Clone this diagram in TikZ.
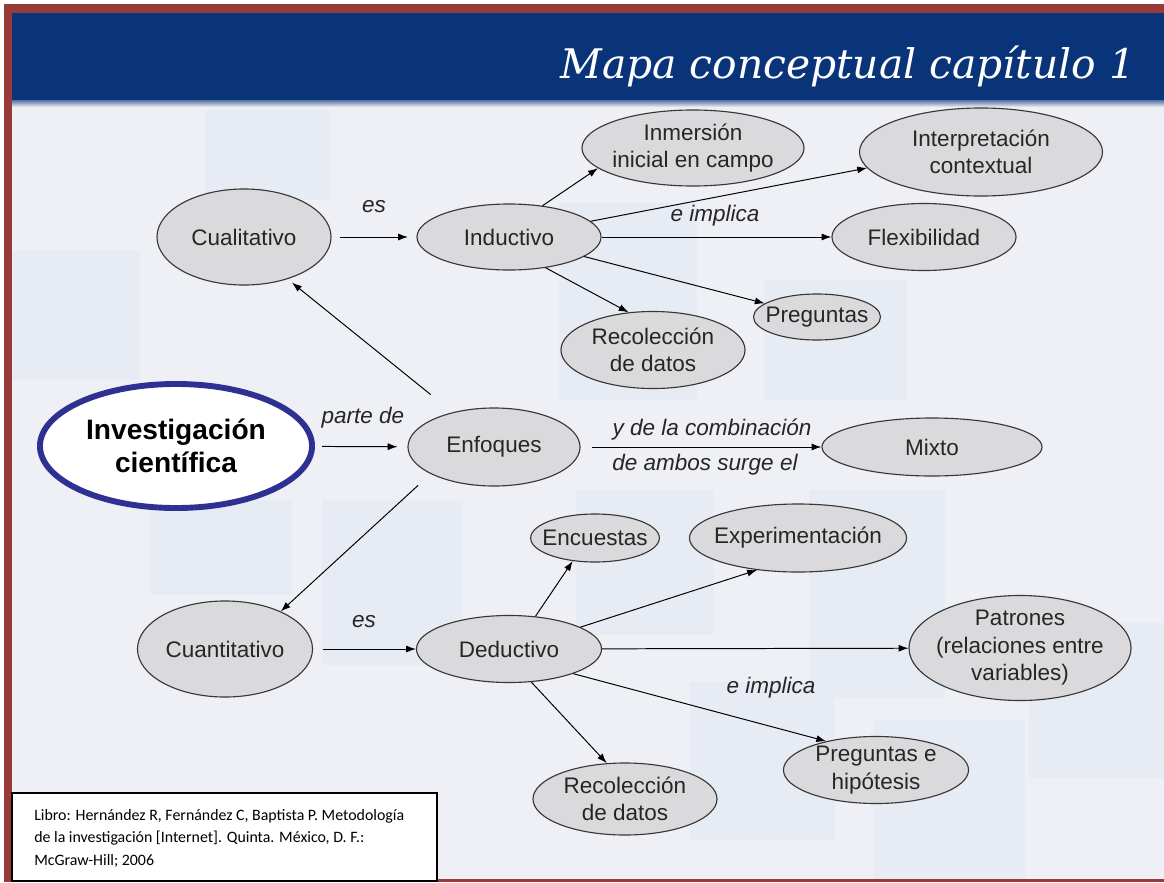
\documentclass[tikz,border=0pt]{standalone}
\usepackage{fontspec}
\setmainfont{Liberation Sans}
\newfontfamily\titlefont{DejaVu Serif}
\newfontfamily\citefont{Carlito}
\usetikzlibrary{shapes.geometric,arrows.meta}

\definecolor{marco}{RGB}{152,58,56}
\definecolor{banda}{RGB}{10,52,122}
\definecolor{fondo}{RGB}{238,240,245}
\definecolor{fondoB}{RGB}{231,235,243}
\definecolor{relleno}{RGB}{218,218,220}
\definecolor{borde}{RGB}{55,55,55}
\definecolor{azulinv}{RGB}{46,49,146}

\tikzset{
  concepto/.style={ellipse, draw=borde, line width=0.8pt, fill=relleno, inner sep=-5pt,
    align=center, text=black!85, font=\fontsize{16}{19.5}\selectfont},
  enlace/.style={font=\fontsize{16}{19}\selectfont\itshape, text=black!85},
  flecha/.style={line width=0.7pt, -{Latex[length=7pt,width=5pt]}},
}

\begin{document}
\begin{tikzpicture}[x=0.025cm, y=-0.025cm]
    % Background and frame
    \fill[white] (0,0) rectangle (1164,882);
    \useasboundingbox (0,0) rectangle (1164,882);
    \fill[fondo] (12,100) rectangle (1164,880);
    \foreach \a/\b/\c/\d in {150/500/292/595, 322/500/463/665, 576/490/714/635,
        809/490/945/698, 1029/623/1164/778, 690/682/835/840, 873/720/1025/880,
        559/203/697/400, 764/280/907/400, 205/110/330/200, 12/250/140/380}
      \fill[fondoB] (\a,\b) rectangle (\c,\d);
    \fill[banda] (12,12) rectangle (1164,100);
    \shade[top color=banda!70, bottom color=fondo] (12,100) rectangle (1164,107);
    \fill[marco] (4,4) rectangle (1164,13);
    \fill[marco] (4,4) rectangle (12,882);
    \fill[marco] (12,879) rectangle (1164,882);

    % Title
    \node[anchor=base east, text=white, font=\titlefont\itshape\fontsize{29}{29}\selectfont]
      (titulo) at (1140,78) {Mapa conceptual capítulo 1};

    % Concepts
    \node[concepto, minimum width=4.35cm, minimum height=2.4cm] (cual) at (244,237) {Cualitativo};
    \node[concepto, minimum width=4.6cm, minimum height=1.65cm] (ind) at (509,237) {Inductivo};
    \node[concepto, minimum width=5.55cm, minimum height=1.9cm] (inm) at (693,148) {Inmersión\\inicial en campo};
    \node[concepto, minimum width=6.075cm, minimum height=2.2cm] (interp) at (981,152) {Interpretación\\contextual};
    \node[concepto, minimum width=4.6cm, minimum height=1.675cm] (flex) at (924,237) {Flexibilidad};
    \node[concepto, minimum width=3.175cm, minimum height=1.15cm] (preg) at (817,317) {Preguntas};
    \node[concepto, minimum width=4.6cm, minimum height=1.925cm] (recoA) at (653,350) {Recolección\\de datos};

    \node[ellipse, draw=azulinv, line width=4.2pt, fill=white, inner sep=0pt,
      minimum width=6.8cm, minimum height=3.1cm, align=center,
      font=\bfseries\fontsize{20}{23.5}\selectfont] (inv) at (176,446) {Investigación\\científica};
    \node[concepto, minimum width=4.3cm, minimum height=1.95cm] (enf) at (494,447) {Enfoques};
    \node[concepto, minimum width=5.5cm, minimum height=1.45cm] (mixto) at (932,447) {Mixto};

    \node[concepto, minimum width=4.375cm, minimum height=2.4cm] (cuant) at (225,649) {Cuantitativo};
    \node[concepto, minimum width=4.625cm, minimum height=1.675cm] (ded) at (509,649) {Deductivo};
    \node[concepto, minimum width=3.125cm, minimum height=1.2cm] (enc) at (595,538) {Encuestas};
    \node[concepto, minimum width=5.075cm, minimum height=1.7cm] (exp) at (798,538) {Experimentación};
    \node[concepto, minimum width=5.55cm, minimum height=2.625cm] (pat) at (1020,648) {Patrones\\(relaciones entre\\variables)};
    \node[concepto, minimum width=4.625cm, minimum height=1.675cm] (pregh) at (876,770) {Preguntas e\\hipótesis};
    \node[concepto, minimum width=4.6cm, minimum height=1.8cm] (recoB) at (625,799) {Recolección\\de datos};

    % Link words
    \node[enlace] (es1) at (374,207) {es};
    \node[enlace] (impl1) at (715,216) {e implica};
    \node[enlace] (parte) at (363,418) {parte de};
    \node[enlace] (comb) at (712,430) {y de la combinación};
    \node[enlace] (surge) at (705,465) {de ambos surge el};
    \node[enlace] (es2) at (364,622) {es};
    \node[enlace] (impl2) at (771,688) {e implica};

    % Connect concepts
    \draw[flecha, shorten <=6pt, shorten >=6pt] (cual) -- (ind);
    \draw[flecha] (ind.43) -- (inm.192);
    \draw[flecha] (ind) -- (interp.188);
    \draw[flecha] (ind) -- (flex);
    \draw[flecha] (ind) -- (preg);
    \draw[flecha] (ind.-40) -- (recoA.123);
    \draw[flecha, shorten <=20pt, shorten >=4pt] (enf.140) -- (cual.-44);
    \draw[flecha, shorten <=5pt, shorten >=7pt] (inv) -- (enf);
    \draw[flecha, shorten <=8pt] (enf) -- (mixto);
    \draw[flecha, shorten <=12pt] (enf.203) -- (cuant.34);
    \draw[flecha, shorten <=7pt] (cuant) -- (ded);
    \draw[flecha] (ded.51) -- (enc.226);
    \draw[flecha] (ded.17) -- (exp.218);
    \draw[flecha] (ded) -- (pat);
    \draw[flecha] (ded.-21) -- (pregh.150);
    \draw[flecha] (ded.-56) -- (recoB.117);

    % Reference box
    \draw[fill=white, line width=1pt] (12,793) rectangle (437,881);
    \node[anchor=west, align=left, inner sep=0pt, text=black,
      font=\citefont\fontsize{11.3}{16}\selectfont] (libro) at (34,838)
      {Libro: Hernández R, Fernández C, Baptista P. Metodología\\
       de la investigación [Internet]. Quinta. México, D. F.:\\
       McGraw-Hill; 2006};
\end{tikzpicture}
\end{document}
